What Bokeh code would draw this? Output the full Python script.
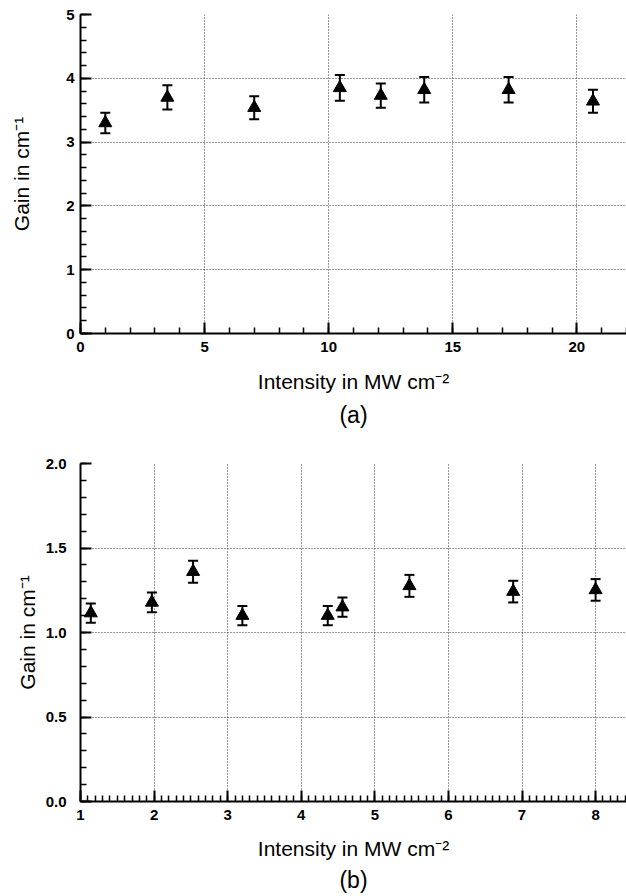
from bokeh.plotting import figure
from bokeh.models import (ColumnDataSource, Whisker, TeeHead, SingleIntervalTicker,
                          Range1d, Title, NumeralTickFormatter)
from bokeh.layouts import column
from bokeh.embed import file_html
from bokeh.resources import INLINE

# ---- data (a) ----
intensity_a = [1.0, 3.5, 7.0, 10.45, 12.1, 13.85, 17.25, 20.65]
gain_a = [3.30, 3.70, 3.54, 3.85, 3.73, 3.82, 3.82, 3.64]
err_a = [0.16, 0.19, 0.18, 0.20, 0.19, 0.20, 0.20, 0.18]

# ---- data (b) ----
intensity_b = [1.14, 1.97, 2.53, 3.20, 4.36, 4.56, 5.47, 6.88, 8.0]
gain_b = [1.115, 1.178, 1.36, 1.10, 1.10, 1.15, 1.276, 1.242, 1.252]
err_b = [0.057, 0.058, 0.065, 0.057, 0.057, 0.057, 0.065, 0.064, 0.064]

x_label = "Intensity in MW cm\u207b\u00b2"
y_label = "Gain in cm\u207b\u00b9"
FONT = "Liberation Sans"


def make_panel(xs, ys, es, xr, yr, xtick, xminor, ytick, yminor, yfmt,
               height, border_top, border_bottom, border_left, y_label_standoff,
               tick_standoff_y, x_label_standoff, title_text, title_standoff):
    p = figure(width=626, height=height, output_backend="svg", toolbar_location=None,
               x_range=Range1d(*xr), y_range=Range1d(*yr),
               min_border_top=border_top, min_border_left=border_left,
               min_border_right=0, min_border_bottom=border_bottom)
    p.outline_line_color = None
    p.background_fill_color = "white"

    src = ColumnDataSource(dict(x=xs, y=ys,
                                upper=[a + b for a, b in zip(ys, es)],
                                lower=[a - b for a, b in zip(ys, es)]))
    w = Whisker(source=src, base="x", upper="upper", lower="lower",
                line_width=2, line_color="black",
                upper_head=TeeHead(size=10, line_width=2, line_color="black"),
                lower_head=TeeHead(size=10, line_width=2, line_color="black"))
    p.add_layout(w)
    p.scatter("x", "y", source=src, marker="triangle", size=13,
              fill_color="black", line_color="black")

    p.xaxis.ticker = SingleIntervalTicker(interval=xtick, num_minor_ticks=xminor)
    p.yaxis.ticker = SingleIntervalTicker(interval=ytick, num_minor_ticks=yminor)
    p.yaxis.formatter = NumeralTickFormatter(format=yfmt)

    for ax in (p.xaxis[0], p.yaxis[0]):
        ax.axis_line_width = 2
        ax.axis_line_color = "black"
        ax.major_tick_in = 11
        ax.major_tick_out = 0
        ax.minor_tick_in = 6
        ax.minor_tick_out = 0
        ax.major_tick_line_width = 2
        ax.minor_tick_line_width = 1.5
        ax.major_tick_line_color = "black"
        ax.minor_tick_line_color = "black"
        ax.major_label_text_font = FONT
        ax.major_label_text_font_size = "15px"
        ax.major_label_text_font_style = "bold"
        ax.major_label_text_color = "black"
        ax.axis_label_text_font = FONT
        ax.axis_label_text_font_size = "21px"
        ax.axis_label_text_font_style = "normal"
        ax.axis_label_text_color = "black"

    p.xaxis.axis_label = x_label
    p.yaxis.axis_label = y_label
    p.xaxis.major_label_standoff = 8
    p.xaxis.axis_label_standoff = x_label_standoff
    p.yaxis.major_label_standoff = tick_standoff_y
    p.yaxis.axis_label_standoff = y_label_standoff

    for g in (p.xgrid[0], p.ygrid[0]):
        g.grid_line_color = "#333333"
        g.grid_line_dash = "1 2"
        g.grid_line_width = 1

    t = Title(text=title_text, align="center", text_font=FONT,
              text_font_size="23px", text_font_style="normal",
              text_color="black", standoff=title_standoff)
    p.add_layout(t, "below")
    return p


pa = make_panel(intensity_a, gain_a, err_a, (0, 22.0), (0, 5), 5, 5, 1, 5, "0",
                height=436, border_top=14, border_bottom=103, border_left=80,
                y_label_standoff=30, tick_standoff_y=6, x_label_standoff=15,
                title_text="(a)", title_standoff=8)
pb = make_panel(intensity_b, gain_b, err_b, (1, 8.42), (0, 2), 1, 10, 0.5, 5, "0.0",
                height=458, border_top=27, border_bottom=91, border_left=77,
                y_label_standoff=4, tick_standoff_y=14, x_label_standoff=14,
                title_text="(b)", title_standoff=4)

layout = column(pa, pb, spacing=0)
open("out.html", "w").write(file_html(layout, INLINE))
